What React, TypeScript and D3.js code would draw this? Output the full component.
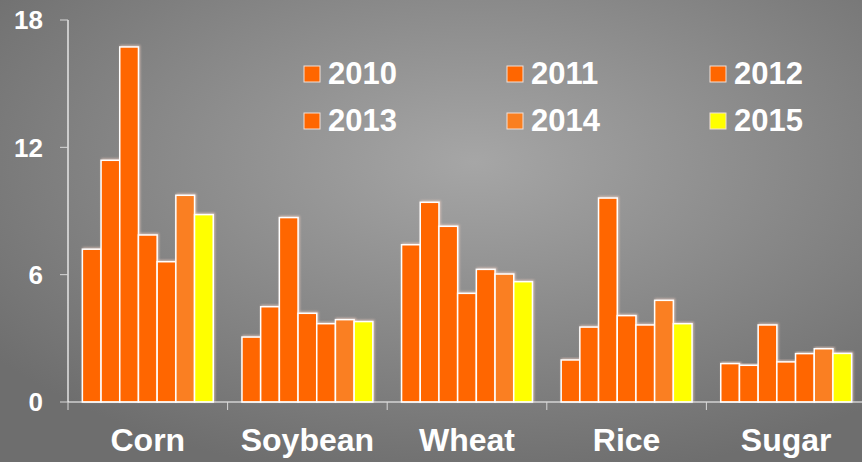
import React from "react";
import * as d3 from "d3";

const categories = ["Corn", "Soybean", "Wheat", "Rice", "Sugar"];
const years = ["2010", "2011", "2012", "2013", "2014", "2015"];
// values[barIndex][categoryIndex]
const v2010 = [7.2, 3.06, 7.41, 1.98, 1.81];
const v2011 = [11.39, 4.49, 9.41, 3.53, 1.73];
const v2012 = [16.73, 8.69, 8.28, 9.61, 3.63];
const v2013 = [7.87, 4.18, 5.12, 4.07, 1.89];
const v2013b = [6.61, 3.69, 6.25, 3.63, 2.28];
const v2014 = [9.74, 3.88, 6.03, 4.79, 2.51];
const v2015 = [8.83, 3.79, 5.67, 3.69, 2.29];
// Seven bars per group in the reference
const seriesKeys = ["2010", "2011", "2012", "2013", "2013b", "2014", "2015"];
const seriesValues = [v2010, v2011, v2012, v2013, v2013b, v2014, v2015];
const seriesColors = ["#FF6600", "#FF6600", "#FF6600", "#FF6600", "#FF6600", "#FA7F20", "#FFFF00"];
const legendColors = ["#FF6600", "#FF6600", "#FF6600", "#FF6600", "#FA7F20", "#FFFF00"];
const yTicks = [0, 6, 12, 18];

const W = 862;
const H = 462;
const left = 68;
const right = 866;
const top = 20;
const bottom = 402;

export default function App() {
  const x0 = d3
    .scaleBand<string>()
    .domain(categories)
    .range([left, right])
    .paddingInner(0.18)
    .paddingOuter(0.09);
  const x1 = d3
    .scaleBand<string>()
    .domain(seriesKeys)
    .range([0, x0.bandwidth()]);
  const y = d3.scaleLinear().domain([0, 18]).range([bottom, top]);
  const step = x0.step();
  const boundaries = d3.range(categories.length + 1).map((i) => left + i * step);

  const font = "'Liberation Sans', Arial, sans-serif";

  return (
    <div style={{ position: "absolute", left: 0, top: 0, width: W, height: H }}>
      <svg width={W} height={H} style={{ display: "block" }}>
        <defs>
          <radialGradient id="bg" cx="0.55" cy="0.35" r="0.7" fx="0.55" fy="0.35">
            <stop offset="0%" stopColor="#a6a6a6" />
            <stop offset="100%" stopColor="#6e6e6e" />
          </radialGradient>
          <filter id="glow" x="-20%" y="-5%" width="140%" height="110%">
            <feGaussianBlur in="SourceAlpha" stdDeviation="1.2" result="b" />
            <feFlood floodColor="#ffd8c8" floodOpacity="0.6" />
            <feComposite in2="b" operator="in" result="s" />
            <feOffset dx="1" dy="-1" result="o" />
            <feMerge>
              <feMergeNode in="o" />
              <feMergeNode in="SourceGraphic" />
            </feMerge>
          </filter>
        </defs>
        <rect x={0} y={0} width={W} height={H} fill="url(#bg)" />

        {/* bars */}
        {categories.map((c, ci) => (
          <g key={c} transform={`translate(${x0(c)},0)`}>
            {seriesKeys.map((k, si) => {
              const val = seriesValues[si][ci];
              return (
                <rect
                  key={k}
                  x={x1(k)}
                  y={y(val)}
                  width={x1.bandwidth()}
                  height={y(0) - y(val)}
                  fill={seriesColors[si]}
                  stroke="#ffffff"
                  strokeWidth={1.5}
                  filter="url(#glow)"
                />
              );
            })}
          </g>
        ))}

        {/* y axis */}
        <line x1={left} x2={left} y1={top} y2={bottom} stroke="#ffffff" strokeWidth={1.2} />
        {yTicks.map((t) => (
          <g key={t}>
            <line x1={left - 8} x2={left} y1={y(t)} y2={y(t)} stroke="#d8d8d8" strokeWidth={1} />
            <text
              x={43}
              y={y(t)}
              dy="0.36em"
              textAnchor="end"
              fill="#ffffff"
              fontFamily={font}
              fontWeight="bold"
              fontSize={26}
            >
              {t}
            </text>
          </g>
        ))}

        {/* x axis */}
        <line x1={left} x2={W} y1={bottom} y2={bottom} stroke="#ffffff" strokeWidth={1.2} />
        {boundaries.map((b, i) => (
          <line key={i} x1={b} x2={b} y1={bottom} y2={bottom + 8} stroke="#d8d8d8" strokeWidth={1} />
        ))}
        {categories.map((c) => (
          <text
            key={c}
            x={(x0(c) as number) + x0.bandwidth() / 2}
            y={451}
            textAnchor="middle"
            fill="#ffffff"
            fontFamily={font}
            fontWeight="bold"
            fontSize={32}
          >
            {c}
          </text>
        ))}

        {/* legend */}
        {years.map((yr, i) => {
          const col = i % 3;
          const row = Math.floor(i / 3);
          const sx = [304, 507, 710][col];
          const baseline = [84, 131][row];
          return (
            <g key={yr}>
              <rect
                x={sx}
                y={baseline - 18}
                width={16}
                height={16}
                fill={legendColors[i]}
                stroke="#f0e0d8"
                strokeWidth={1}
              />
              <text
                x={sx + 24}
                y={baseline}
                fill="#ffffff"
                fontFamily={font}
                fontWeight="bold"
                fontSize={31}
              >
                {yr}
              </text>
            </g>
          );
        })}
      </svg>
    </div>
  );
}
